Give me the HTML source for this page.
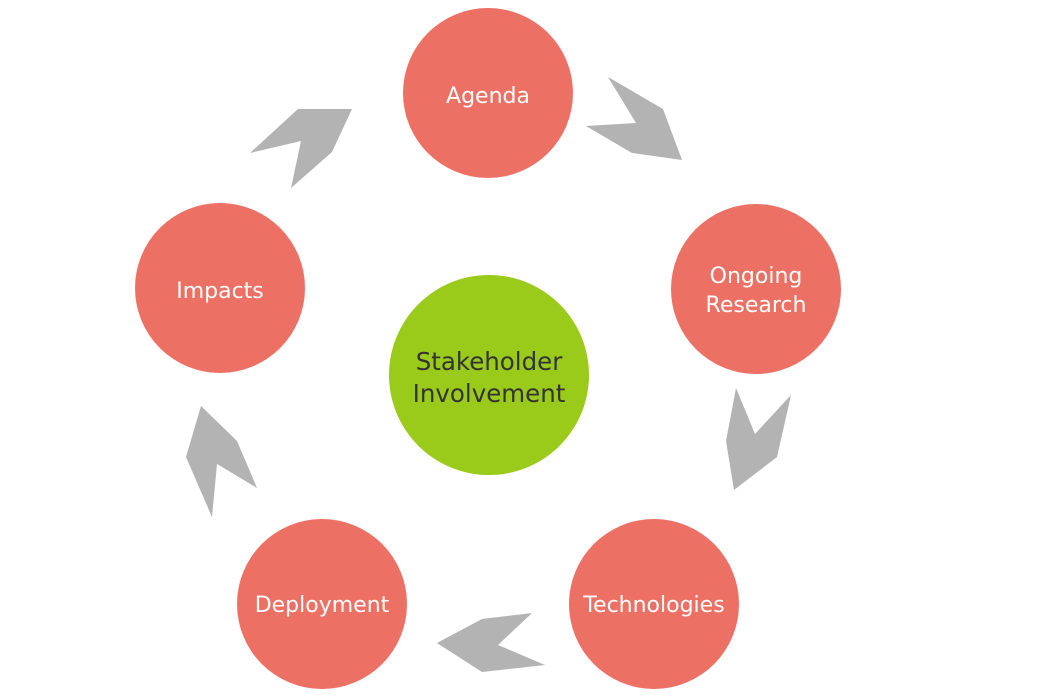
<!DOCTYPE html>
<html><head><meta charset="utf-8"><style>
html,body{margin:0;padding:0;background:#fff;width:1050px;height:700px;overflow:hidden}
text{font-family:"DejaVu Sans","Liberation Sans",sans-serif}
</style></head><body>
<svg width="1050" height="700" xmlns="http://www.w3.org/2000/svg">
<g fill="#b3b3b3">
<polygon points="608,77 663,109 682,160 632,153 586,126 636,123"/>
<polygon points="736,388 755,434 791,395 777,457 734,490 726,441"/>
<polygon points="532,613 498,645 545,665 482,672 437,643 482,619"/>
<polygon points="201,406 237,441 257,488 217,464 212,517 186,457"/>
<polygon points="298,109 352,109 332,152 291,188 301,141 250,153"/>
</g>
<g fill="#ec7063">
<circle cx="488" cy="93" r="85"/>
<circle cx="756" cy="289" r="85"/>
<circle cx="654" cy="604" r="85"/>
<circle cx="322" cy="604" r="85"/>
<circle cx="220" cy="288" r="85"/>
</g>
<circle cx="489" cy="375" r="100" fill="#9aca1a"/>
<g fill="#fff" font-size="22" text-anchor="middle">
<text x="488" y="103">Agenda</text>
<text x="756" y="283">Ongoing</text>
<text x="756" y="312">Research</text>
<text x="654" y="612">Technologies</text>
<text x="322" y="612">Deployment</text>
<text x="220" y="298">Impacts</text>
</g>
<g fill="#333" font-size="24.5" text-anchor="middle">
<text x="489" y="370">Stakeholder</text>
<text x="489" y="402">Involvement</text>
</g>
</svg>
</body></html>
